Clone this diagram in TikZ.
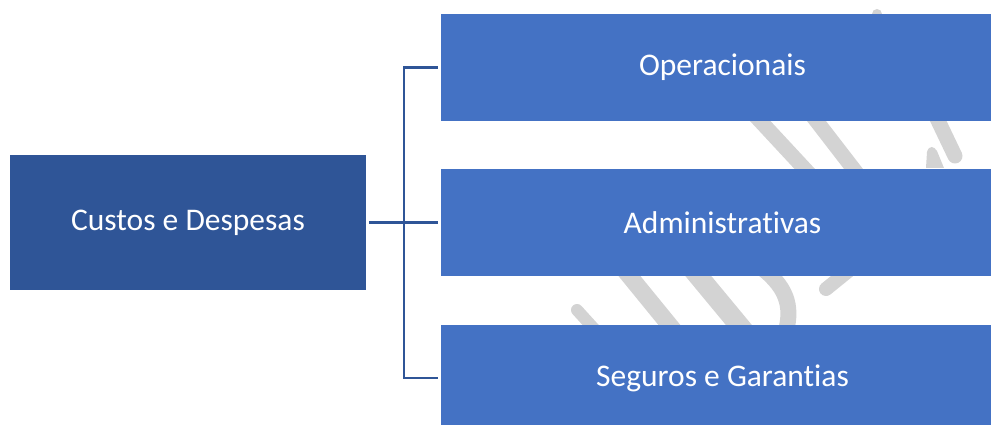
\documentclass[tikz,border=0pt]{standalone}
\usepackage{fontspec}
\setmainfont[Ligatures=NoCommon]{Carlito}
\definecolor{rootblue}{HTML}{2F5597}
\definecolor{leafblue}{HTML}{4472C4}
\definecolor{linkblue}{HTML}{2F5597}
\definecolor{markgray}{HTML}{D3D3D3}
\begin{document}
\begin{tikzpicture}[x=1pt,y=-1pt,
  box/.style={rectangle, inner sep=0pt, text=white, font=\fontsize{31.5}{36}\selectfont},
  rootbox/.style={box, fill=rootblue, minimum width=356pt, minimum height=135pt},
  leafbox/.style={box, fill=leafblue, minimum width=563pt, minimum height=107pt},
  link/.style={draw=linkblue, line width=2.6pt, shorten <=3pt, shorten >=3pt},
  grayband/.style={draw=markgray, line width=15pt}]
\useasboundingbox (0,0) rectangle (991,425);

% faint background strokes, partly hidden by the boxes
\draw[grayband] (750,110) -- (815,180);
\draw[grayband] (808,110) -- (862,180);
\draw[grayband, line cap=round] (933,110) -- (955,156);
\fill[markgray] (926,168) -- (927,152) .. controls (929,145) and (934,146) .. (937,151) -- (944,168) -- cycle;
\draw[grayband, line cap=round, line width=10pt] (877,14) -- (877,40);
\draw[grayband, line cap=round, line width=12pt] (577,310) -- (597,332);
\draw[grayband, line width=17pt] (618,262) -- (680,338);
\draw[grayband, line width=20pt] (690,266) -- (748,336);
\draw[grayband, line width=16pt] (762,268) .. controls (790,290) and (792,310) .. (785,335);
\draw[grayband, line cap=round, line width=14pt] (852,268) -- (826,289);

% boxes
\node[rootbox] (root) at (188,222.5) {Custos e Despesas};
\node[leafbox] (op) at (722.5,67.5) {Operacionais};
\node[leafbox] (ad) at (722.5,222.5) {Administrativas};
\node[leafbox] (sg) at (722.5,378) {Seguros e Garantias};

% bracket connectors
\draw[link] (root.east) -- (ad.west);
\draw[link] (op.west) -- ++(-37,0) coordinate (trunktop) |- (sg.west);
\end{tikzpicture}
\end{document}
